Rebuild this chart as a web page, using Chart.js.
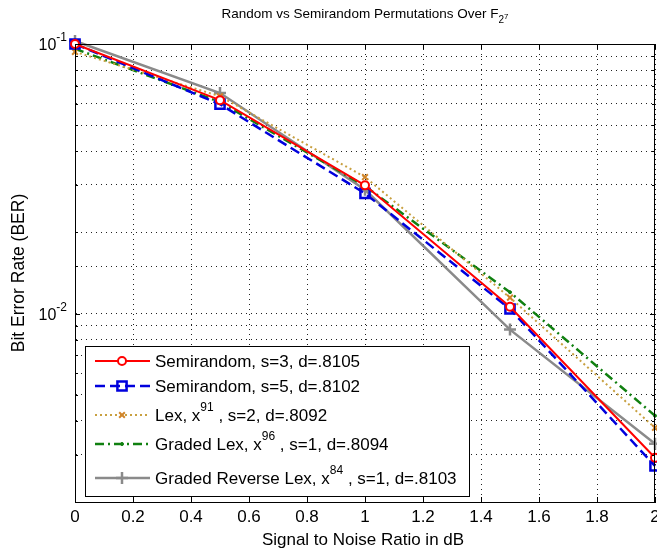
<!DOCTYPE html>
<html><head><meta charset="utf-8">
<script src="https://cdn.jsdelivr.net/npm/chart.js@4"></script>
<style>html,body{margin:0;padding:0;background:#fff;overflow:hidden}#wrap{width:657px;height:552px}</style>
</head><body><div id="wrap"><canvas id="c" width="657" height="552"></canvas></div>
<script>
// ---- data ----
const snr = [0, 0.5, 1, 1.5, 2];
const semirandomS3 = [0.1000, 0.0619, 0.0299, 0.0106, 0.00292];
const semirandomS5 = [0.1000, 0.0598, 0.0279, 0.0104, 0.00272];
const lexX91 = [0.0935, 0.0640, 0.0321, 0.01146, 0.00377];
const gradedLexX96 = [0.0960, 0.0609, 0.0297, 0.0120, 0.00418];
const gradedRevLexX84 = [0.1026, 0.0658, 0.0288, 0.00872, 0.00329];
const xTickValues = [0, 0.2, 0.4, 0.6, 0.8, 1, 1.2, 1.4, 1.6, 1.8, 2];
const xTickLabels = ['0', '0.2', '0.4', '0.6', '0.8', '1', '1.2', '1.4', '1.6', '1.8', '2'];
const yTickValues = [0.1, 0.01];
const yTickBase = ['10', '10'];
const yTickExp = ['-1', '-2'];
// legend pieces: even index = normal text, odd index = superscript
const legendPieces = [
  ['Semirandom, s=3, d=.8105'],
  ['Semirandom, s=5, d=.8102'],
  ['Lex, x', '91', ' , s=2, d=.8092'],
  ['Graded Lex, x', '96', ' , s=1, d=.8094'],
  ['Graded Reverse Lex, x', '84', ' , s=1, d=.8103']
];
const titleMain = 'Random vs Semirandom Permutations Over F';
const titleSub = '2';
const titleSubSup = '7';
const xTitle = 'Signal to Noise Ratio in dB';
const yTitle = 'Bit Error Rate (BER)';

const FONT = '"Liberation Sans", Arial, sans-serif';

function pts(arr) { return snr.map((x, i) => ({x: x, y: arr[i]})); }

const datasets = [
  {data: pts(semirandomS3), borderColor: '#ff0000', backgroundColor: '#ffffff', borderWidth: 2,
   pointStyle: 'circle', pointRadius: 4, pointBorderWidth: 2, borderDash: []},
  {data: pts(semirandomS5), borderColor: '#0000dd', backgroundColor: 'rgba(255,255,255,0)', borderWidth: 2.5,
   pointStyle: 'rect', pointRadius: 6.5, pointBorderWidth: 2.5, borderDash: [10, 5]},
  {data: pts(lexX91), borderColor: '#c8a040', backgroundColor: '#d0852a', borderWidth: 2,
   pointStyle: 'crossRot', pointRadius: 4, pointBorderWidth: 2, pointBorderColor: '#d0852a', borderDash: [2, 3]},
  {data: pts(gradedLexX96), borderColor: '#108010', backgroundColor: '#108010', borderWidth: 2.5,
   pointStyle: 'circle', pointRadius: 1.5, pointBorderWidth: 1, borderDash: [9, 4, 2, 4]},
  {data: pts(gradedRevLexX84), borderColor: '#8a8a8a', backgroundColor: '#8a8a8a', borderWidth: 2.5,
   pointStyle: 'cross', pointRadius: 6, pointBorderWidth: 2.5, borderDash: []}
];
datasets.forEach(d => { d.tension = 0; d.fill = false; d.clip = false; if (!d.pointBorderColor) d.pointBorderColor = d.borderColor; });

function drawPieces(ctx, pieces, x, y, size, supSize, supRise) {
  let cx = x;
  pieces.forEach((p, i) => {
    if (i % 2 === 0) {
      ctx.font = size + 'px ' + FONT;
      ctx.fillText(p, cx, y);
    } else {
      ctx.font = supSize + 'px ' + FONT;
      ctx.fillText(p, cx, y - supRise);
    }
    cx += ctx.measureText(p).width;
  });
  return cx;
}

const decor = {
  id: 'decor',
  afterDraw(chart) {
    const ctx = chart.ctx, a = chart.chartArea;
    const xs = chart.scales.x, ys = chart.scales.y;
    ctx.save();
    // axes box
    ctx.strokeStyle = '#000'; ctx.lineWidth = 1; ctx.setLineDash([]);
    ctx.strokeRect(Math.round(a.left) + 0.5, Math.round(a.top) + 0.5, Math.round(a.right - a.left) - 1, Math.round(a.bottom - a.top));
    // small inward tick marks
    ctx.beginPath();
    xTickValues.forEach(v => {
      const px = Math.round(xs.getPixelForValue(v)) + 0.5;
      ctx.moveTo(px, a.bottom); ctx.lineTo(px, a.bottom - 5);
      ctx.moveTo(px, a.top); ctx.lineTo(px, a.top + 5);
    });
    ys.ticks.forEach(t => {
      const py = Math.round(ys.getPixelForValue(t.value)) + 0.5;
      const len = yTickValues.includes(t.value) ? 5 : 3;
      ctx.moveTo(a.left, py); ctx.lineTo(a.left + len, py);
      ctx.moveTo(a.right, py); ctx.lineTo(a.right - len, py);
    });
    ctx.stroke();
    ctx.fillStyle = '#000';
    // y tick labels with superscript
    ctx.textBaseline = 'middle'; ctx.textAlign = 'left';
    yTickValues.forEach((v, i) => {
      const py = ys.getPixelForValue(v);
      ctx.font = '16px ' + FONT;
      const wb = ctx.measureText(yTickBase[i]).width;
      ctx.font = '12px ' + FONT;
      const we = ctx.measureText(yTickExp[i]).width;
      const x0 = a.left - 8 - wb - we;
      ctx.font = '16px ' + FONT;
      ctx.fillText(yTickBase[i], x0, py + 2);
      ctx.font = '12px ' + FONT;
      ctx.fillText(yTickExp[i], x0 + wb, py - 6);
    });
    // title
    ctx.textBaseline = 'alphabetic';
    ctx.font = '13.5px ' + FONT;
    const wm = ctx.measureText(titleMain).width;
    ctx.font = '10px ' + FONT;
    const ws = ctx.measureText(titleSub).width;
    ctx.font = '8px ' + FONT;
    const wss = ctx.measureText(titleSubSup).width;
    const tw = wm + ws + wss;
    const tx = (a.left + a.right) / 2 - tw / 2;
    ctx.font = '13.5px ' + FONT;
    ctx.fillText(titleMain, tx, 18);
    ctx.font = '10px ' + FONT;
    ctx.fillText(titleSub, tx + wm, 23);
    ctx.font = '8px ' + FONT;
    ctx.fillText(titleSubSup, tx + wm + ws, 19);
    // x title
    ctx.textAlign = 'center';
    ctx.font = '17px ' + FONT;
    ctx.fillText(xTitle, (a.left + a.right) / 2 - 2, 545);
    // y title
    ctx.save();
    ctx.translate(24, (a.top + a.bottom) / 2);
    ctx.rotate(-Math.PI / 2);
    ctx.font = '17.5px ' + FONT;
    ctx.fillText(yTitle, 0, 0);
    ctx.restore();
    // legend
    const lx = 85, ly = 346, lw = 384, lh = 150;
    ctx.fillStyle = '#fff';
    ctx.fillRect(lx, ly, lw, lh);
    ctx.strokeStyle = '#000'; ctx.lineWidth = 1;
    ctx.strokeRect(lx + 0.5, ly + 0.5, lw, lh);
    const rows = [361, 386, 415, 444, 478];
    ctx.textAlign = 'left'; ctx.textBaseline = 'middle';
    datasets.forEach((d, i) => {
      const ry = rows[i];
      ctx.save();
      ctx.strokeStyle = d.borderColor; ctx.lineWidth = d.borderWidth;
      ctx.setLineDash(d.borderDash || []);
      ctx.beginPath(); ctx.moveTo(95, ry); ctx.lineTo(150, ry); ctx.stroke();
      ctx.restore();
      ctx.save();
      ctx.setLineDash([]);
      ctx.strokeStyle = d.pointBorderColor; ctx.fillStyle = d.backgroundColor; ctx.lineWidth = d.pointBorderWidth;
      Chart.helpers.drawPoint(ctx, {pointStyle: d.pointStyle, radius: d.pointRadius, borderWidth: d.pointBorderWidth, rotation: 0}, 122, ry);
      ctx.restore();
      ctx.fillStyle = '#000';
      drawPieces(ctx, legendPieces[i], 155, ry + 1, 17, 12, 8);
    });
    ctx.restore();
  }
};

new Chart(document.getElementById('c'), {
  type: 'line',
  data: {datasets: datasets},
  options: {
    responsive: false, animation: false,
    layout: {padding: {left: 0, top: 44, right: 2, bottom: 0}, autoPadding: false},
    plugins: {legend: {display: false}, title: {display: false}, tooltip: {enabled: false}},
    scales: {
      x: {
        type: 'linear', min: 0, max: 2,
        afterBuildTicks: s => { s.ticks = xTickValues.map(v => ({value: v})); },
        afterFit: s => { s.height = 50; s.paddingLeft = 0; s.paddingRight = 0; },
        ticks: {callback: (v, i) => xTickLabels[i], color: '#000', font: {size: 17, family: FONT}, padding: 5, maxRotation: 0, autoSkip: false},
        grid: {color: '#222', lineWidth: 1, drawTicks: false},
        border: {display: true, color: '#000', dash: [1, 4]}
      },
      y: {
        type: 'logarithmic', min: 0.002, max: 0.1,
        afterFit: s => { s.width = 75; s.paddingTop = 0; s.paddingBottom = 0; },
        ticks: {display: false, autoSkip: false},
        grid: {color: '#222', lineWidth: 1, drawTicks: false},
        border: {display: true, color: '#000', dash: [1, 4]}
      }
    }
  },
  plugins: [decor]
});
</script>
</body></html>
